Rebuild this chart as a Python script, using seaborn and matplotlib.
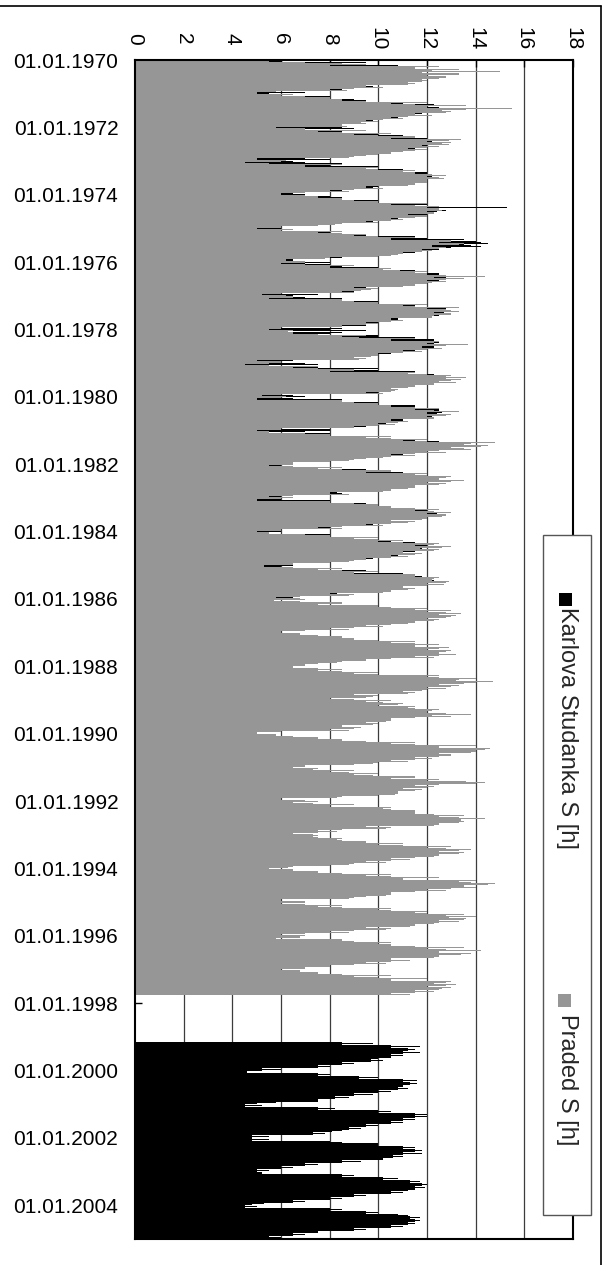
import numpy as np
import pandas as pd
import matplotlib
matplotlib.use("Agg")
import matplotlib.pyplot as plt
import seaborn as sns
from matplotlib.patches import Rectangle
from matplotlib.lines import Line2D

sns.set_style("white")
plt.rcParams['font.family'] = ['Liberation Sans', 'DejaVu Sans']

# ---------------- data (monthly readings of daily sunshine, hours) ----------------
# Praded: Jan 1970 .. Sep 1997 ; "fill" = solid envelope, "peak"/"peak2" = long single days
praded_start = 1970
praded_fill = [
    5.5, 8.0, 10.5, 11.5, 11.8, 12.0, 11.8, 11.2, 10.5, 9.5, 8.0, 5.0,   # 1970
    4.8, 7.0, 8.5, 10.5, 12.0, 12.6, 12.2, 11.5, 10.5, 9.5, 8.5, 7.8,    # 1971
    5.8, 7.5, 9.0, 10.5, 11.6, 12.0, 11.8, 11.2, 10.5, 9.5, 8.0, 5.0,    # 1972
    4.5, 7.0, 8.5, 10.0, 11.5, 12.0, 12.0, 11.5, 10.5, 9.5, 8.0, 6.0,    # 1973
    6.0, 7.5, 9.0, 10.5, 12.0, 12.0, 11.8, 11.2, 10.5, 9.5, 7.5, 5.0,    # 1974
    5.0, 7.5, 9.0, 10.5, 12.0, 12.5, 12.2, 11.8, 11.0, 10.0, 7.0, 6.2,   # 1975
    6.0, 8.0, 9.5, 10.9, 12.0, 12.3, 12.0, 11.5, 10.5, 9.0, 8.5, 5.2,    # 1976
    5.5, 7.5, 9.0, 11.0, 12.0, 12.3, 12.3, 11.5, 10.5, 9.5, 8.5, 5.0,    # 1977
    5.5, 6.5, 8.5, 10.5, 11.5, 12.0, 11.8, 11.0, 10.0, 9.0, 8.5, 5.0,    # 1978
    4.5, 6.5, 8.0, 10.5, 12.0, 12.8, 12.5, 11.5, 10.5, 10.0, 9.5, 5.2,   # 1979
    5.0, 7.5, 9.0, 10.5, 11.5, 12.0, 12.0, 11.5, 10.5, 10.0, 9.0, 5.0,   # 1980
    4.5, 7.0, 9.5, 11.0, 13.0, 13.5, 13.0, 12.0, 10.5, 9.5, 8.0, 5.5,    # 1981
    5.5, 7.5, 9.5, 10.5, 12.0, 12.5, 12.0, 11.5, 10.5, 9.5, 8.0, 5.5,    # 1982
    5.0, 7.0, 9.0, 10.5, 11.5, 12.0, 12.0, 11.0, 10.5, 9.5, 7.5, 5.0,    # 1983
    4.5, 7.0, 9.0, 10.0, 11.5, 11.7, 11.5, 11.0, 10.5, 9.5, 8.0, 5.5,    # 1984
    5.3, 7.5, 9.0, 10.5, 11.5, 12.2, 12.0, 11.0, 10.5, 9.5, 8.0, 5.8,    # 1985
    5.7, 7.5, 9.0, 10.5, 12.0, 12.5, 12.0, 11.5, 10.5, 9.5, 8.0, 6.0,    # 1986
    5.8, 7.5, 9.0, 10.5, 11.5, 11.7, 12.0, 12.5, 11.5, 9.5, 7.5, 6.0,    # 1987
    6.5, 7.5, 9.0, 11.0, 12.5, 13.2, 12.5, 12.0, 11.0, 10.5, 9.0, 8.0,   # 1988
    9.5, 10.0, 10.5, 11.5, 12.0, 12.2, 10.5, 9.5, 9.0, 8.5, 8.0, 5.0,    # 1989
    4.8, 6.5, 8.5, 10.5, 12.5, 14.0, 13.0, 12.5, 11.5, 10.5, 9.0, 6.0,   # 1990
    6.5, 8.0, 9.0, 10.5, 11.0, 13.6, 11.5, 11.0, 10.8, 10.0, 7.5, 6.0,   # 1991
    6.5, 8.0, 9.5, 10.5, 11.5, 12.5, 13.4, 12.5, 11.5, 9.5, 7.5, 6.5,    # 1992
    6.5, 7.5, 8.5, 10.0, 12.0, 12.5, 12.5, 11.5, 10.5, 9.5, 8.0, 5.5,    # 1993
    5.5, 7.5, 9.5, 11.0, 12.5, 13.8, 13.5, 12.0, 10.5, 9.5, 8.0, 6.0,    # 1994
    6.0, 7.5, 9.0, 10.5, 12.0, 12.9, 12.5, 11.5, 10.5, 9.5, 8.0, 6.0,    # 1995
    5.8, 7.5, 9.0, 10.5, 12.0, 12.5, 12.5, 11.5, 10.5, 9.5, 8.0, 6.0,    # 1996
    5.8, 7.5, 9.0, 10.5, 12.0, 12.3, 12.0, 11.5, 10.5,                   # 1997
]
praded_peak = [
    9.6, 8.5, 12.5, 13.3, 15.0, 13.3, 12.8, 12.0, 11.5, 10.5, 9.0, 5.8,  # 1970
    6.5, 8.0, 10.0, 12.0, 13.6, 15.5, 13.0, 12.0, 11.2, 10.2, 9.3, 8.5,  # 1971
    7.0, 9.5, 10.5, 11.5, 13.4, 13.0, 12.9, 12.0, 11.5, 10.5, 9.0, 6.0,  # 1972
    6.0, 8.5, 10.0, 11.5, 12.5, 12.8, 12.7, 12.0, 11.5, 10.5, 9.0, 7.0,  # 1973
    7.0, 8.5, 10.0, 12.0, 12.5, 12.5, 12.3, 12.0, 11.5, 10.5, 8.5, 6.0,  # 1974
    6.5, 8.5, 9.5, 11.5, 13.0, 13.5, 13.0, 12.5, 11.8, 10.8, 8.0, 7.0,   # 1975
    7.0, 9.0, 10.5, 12.0, 13.0, 14.4, 12.8, 12.2, 11.5, 10.0, 9.3, 6.0,  # 1976
    6.5, 8.5, 10.0, 12.0, 13.3, 13.0, 13.0, 12.2, 11.5, 10.5, 9.5, 6.0,  # 1977
    6.5, 7.5, 9.5, 11.5, 12.5, 13.7, 12.5, 12.0, 11.0, 10.0, 9.5, 6.0,   # 1978
    5.5, 7.5, 9.0, 11.5, 13.0, 13.6, 13.0, 12.3, 11.5, 10.8, 10.5, 6.0,  # 1979
    6.0, 8.5, 10.0, 11.5, 12.5, 13.3, 13.0, 12.3, 11.5, 10.8, 10.0, 6.0, # 1980
    5.5, 8.0, 10.5, 12.0, 14.8, 14.5, 13.5, 12.5, 11.5, 10.5, 9.0, 6.5,  # 1981
    6.5, 8.5, 10.5, 12.0, 13.0, 14.6, 13.0, 12.5, 11.5, 10.5, 9.0, 6.5,  # 1982
    6.0, 8.0, 10.0, 11.5, 12.5, 13.0, 12.8, 12.0, 11.5, 10.5, 8.5, 6.0,  # 1983
    5.5, 8.0, 10.0, 11.0, 12.5, 13.0, 12.5, 12.0, 11.5, 10.5, 9.0, 6.5,  # 1984
    6.5, 8.5, 10.0, 11.5, 12.5, 13.0, 12.8, 12.0, 11.5, 10.5, 9.0, 6.8,  # 1985
    7.0, 8.5, 10.0, 12.0, 13.0, 13.4, 13.0, 12.5, 11.5, 10.5, 9.0, 7.0,  # 1986
    6.8, 8.5, 10.0, 11.5, 12.5, 12.9, 13.0, 13.6, 12.5, 10.5, 8.5, 7.0,  # 1987
    7.5, 8.5, 10.0, 12.5, 14.0, 14.7, 13.5, 13.0, 12.0, 11.5, 10.0, 9.5, # 1988
    10.5, 11.0, 11.5, 12.5, 13.0, 13.8, 11.5, 10.5, 10.0, 9.5, 9.0, 6.0, # 1989
    5.8, 7.5, 9.5, 11.5, 14.0, 14.6, 14.0, 13.0, 12.5, 11.5, 10.0, 7.0,  # 1990
    7.5, 9.0, 10.0, 11.5, 12.5, 14.4, 12.5, 12.0, 11.5, 10.8, 8.5, 7.0,  # 1991
    7.5, 9.0, 10.5, 11.5, 12.5, 13.5, 14.4, 13.5, 12.5, 10.5, 8.5, 7.5,  # 1992
    7.5, 8.5, 9.5, 11.0, 13.0, 13.8, 13.5, 12.5, 11.5, 10.5, 9.0, 6.5,   # 1993
    6.5, 8.5, 10.5, 12.5, 14.0, 14.8, 14.2, 13.0, 11.5, 10.5, 9.0, 7.0,  # 1994
    7.0, 8.5, 10.5, 12.0, 13.5, 14.0, 13.5, 12.5, 11.5, 10.5, 9.0, 7.0,  # 1995
    6.8, 8.5, 10.5, 12.0, 13.5, 14.2, 13.8, 12.5, 11.5, 10.5, 9.0, 7.0,  # 1996
    6.8, 8.5, 10.5, 12.0, 13.0, 13.2, 13.0, 12.5, 11.5,                  # 1997
]
praded_peak2 = [
    7.0, 9.5, 11.5, 12.2, 13.3, 12.8, 12.5, 11.8, 11.2, 10.2, 8.7, 6.0,  # 1970
    6.0, 8.0, 9.5, 11.5, 12.8, 13.6, 12.8, 12.2, 11.0, 10.0, 9.5, 8.7,   # 1971
    7.0, 8.5, 10.0, 11.5, 12.9, 12.6, 12.5, 12.0, 11.0, 10.0, 8.8, 6.2,  # 1972
    5.5, 8.0, 9.5, 11.0, 12.2, 12.5, 12.8, 12.0, 11.2, 10.2, 8.8, 7.2,   # 1973
    7.5, 8.5, 10.0, 11.5, 12.5, 12.6, 12.3, 12.0, 11.0, 10.0, 8.2, 6.0,  # 1974
    6.0, 8.5, 10.0, 11.5, 13.0, 13.3, 12.8, 12.2, 11.5, 10.5, 7.8, 7.0,  # 1975
    7.0, 8.7, 10.2, 11.5, 12.8, 13.5, 12.8, 12.0, 11.0, 9.7, 9.0, 6.2,   # 1976
    6.5, 8.5, 10.0, 11.5, 12.8, 13.3, 13.0, 12.2, 11.0, 10.0, 9.2, 6.0,  # 1977
    6.3, 7.5, 9.2, 11.2, 12.3, 12.8, 12.6, 11.8, 10.8, 9.7, 9.2, 6.0,   # 1978
    5.5, 7.5, 9.0, 11.2, 12.8, 13.4, 13.2, 12.3, 11.2, 10.7, 10.2, 6.2,  # 1979
    6.0, 8.5, 10.0, 11.5, 12.3, 12.9, 12.8, 12.3, 11.2, 10.7, 9.7, 6.0,  # 1980
    5.5, 8.0, 10.5, 12.0, 13.8, 14.2, 13.8, 12.8, 11.5, 10.2, 8.8, 6.5,  # 1981
    6.5, 8.5, 10.5, 11.5, 12.8, 13.5, 12.8, 12.3, 11.2, 10.2, 8.8, 6.5,  # 1982
    6.0, 8.0, 10.0, 11.5, 12.3, 12.8, 12.6, 11.8, 11.2, 10.2, 8.5, 6.0,  # 1983
    5.5, 8.0, 10.0, 11.0, 12.3, 12.6, 12.3, 11.8, 11.2, 10.2, 8.8, 6.5,  # 1984
    6.5, 8.5, 10.0, 11.5, 12.3, 12.9, 12.7, 11.8, 11.2, 10.2, 8.8, 6.8,  # 1985
    6.8, 8.5, 10.0, 11.5, 12.8, 13.2, 12.8, 12.3, 11.2, 10.2, 8.8, 7.0,  # 1986
    6.8, 8.5, 10.0, 11.5, 12.3, 12.5, 12.8, 13.2, 12.3, 10.2, 8.3, 7.0,  # 1987
    7.5, 8.5, 10.0, 12.0, 13.3, 14.0, 13.3, 12.8, 11.8, 11.2, 9.8, 9.0,  # 1988
    10.2, 10.8, 11.2, 12.2, 12.8, 13.0, 11.2, 10.3, 9.8, 9.3, 8.8, 6.0,  # 1989
    5.8, 7.5, 9.5, 11.5, 13.5, 14.4, 13.8, 13.0, 12.2, 11.2, 9.8, 7.0,   # 1990
    7.3, 8.8, 9.8, 11.5, 12.0, 14.0, 12.3, 11.8, 11.5, 10.7, 8.3, 7.0,   # 1991
    7.3, 8.8, 10.2, 11.5, 12.3, 13.3, 14.0, 13.3, 12.3, 10.3, 8.3, 7.3,  # 1992
    7.3, 8.3, 9.5, 11.0, 12.8, 13.3, 13.3, 12.3, 11.3, 10.3, 8.8, 6.3,   # 1993
    6.5, 8.5, 10.5, 12.0, 13.3, 14.5, 14.0, 12.8, 11.3, 10.3, 8.8, 7.0,  # 1994
    7.0, 8.5, 10.0, 11.5, 12.8, 13.6, 13.3, 12.3, 11.3, 10.3, 8.8, 7.0,  # 1995
    6.8, 8.5, 10.0, 11.5, 12.8, 13.4, 13.4, 12.3, 11.3, 10.3, 8.8, 7.0,  # 1996
    6.8, 8.5, 10.0, 11.5, 12.8, 12.8, 12.6, 12.3, 11.3,                  # 1997
]

# Karlova Studanka, first part: Jan 1970 .. Dec 1985
karlova1_start = 1970
karlova1_fill = [
    5.0, 7.5, 9.5, 10.5, 11.2, 11.5, 11.2, 10.8, 10.0, 9.0, 7.5, 4.5,    # 1970
    4.5, 6.5, 8.0, 10.0, 11.5, 11.9, 11.5, 10.5, 10.0, 9.0, 8.0, 7.0,    # 1971
    5.5, 7.0, 8.5, 10.0, 11.5, 12.0, 11.9, 11.0, 10.0, 9.0, 7.5, 5.0,    # 1972
    4.5, 6.5, 8.5, 10.0, 11.5, 12.0, 12.0, 11.0, 10.0, 9.0, 7.5, 5.5,    # 1973
    5.5, 7.0, 9.0, 10.5, 12.2, 12.4, 12.0, 11.0, 10.0, 9.0, 7.0, 4.5,    # 1974
    4.5, 7.0, 8.5, 10.5, 12.5, 13.5, 13.0, 12.0, 11.0, 10.0, 7.0, 5.5,   # 1975
    5.5, 7.5, 9.0, 10.5, 12.0, 12.5, 12.0, 11.0, 10.0, 8.5, 8.0, 4.5,    # 1976
    5.0, 7.0, 8.5, 10.5, 12.5, 12.7, 12.5, 11.0, 10.0, 9.0, 8.0, 4.5,    # 1977
    5.0, 6.5, 8.0, 10.0, 11.8, 12.3, 12.0, 11.0, 9.5, 8.5, 8.0, 4.5,     # 1978
    4.0, 6.0, 8.0, 10.5, 12.0, 12.5, 12.0, 11.0, 10.0, 9.5, 9.0, 4.8,    # 1979
    4.5, 7.0, 8.5, 10.0, 12.0, 12.4, 12.2, 11.5, 10.0, 9.5, 8.5, 4.5,    # 1980
    4.0, 6.5, 9.0, 10.5, 12.0, 12.5, 12.0, 11.5, 10.0, 9.0, 7.5, 5.0,    # 1981
    5.0, 7.0, 9.0, 10.0, 11.5, 12.0, 11.5, 11.0, 10.0, 9.0, 7.5, 5.0,    # 1982
    4.5, 6.5, 8.5, 10.0, 11.0, 11.5, 11.5, 10.5, 10.0, 9.0, 7.0, 4.5,    # 1983
    4.0, 6.5, 8.5, 9.5, 11.0, 11.2, 11.0, 10.5, 10.0, 9.0, 7.5, 5.0,     # 1984
    5.0, 7.0, 8.5, 10.0, 11.0, 11.8, 11.5, 10.5, 10.0, 9.0, 7.5, 5.0,    # 1985
]
karlova1_peak = [
    6.0, 7.5, 10.3, 11.0, 11.8, 12.0, 11.8, 11.0, 10.8, 9.8, 8.5, 7.0,   # 1970
    6.0, 7.5, 9.5, 11.0, 12.0, 12.2, 12.0, 11.5, 10.8, 9.8, 9.5, 8.5,    # 1971
    9.0, 8.5, 10.0, 11.0, 12.0, 12.0, 12.0, 11.5, 10.8, 9.8, 8.5, 8.0,   # 1972
    7.0, 8.0, 9.5, 11.0, 12.0, 12.2, 12.0, 11.5, 10.8, 9.8, 8.5, 6.5,    # 1973
    8.0, 8.0, 10.0, 12.0, 15.3, 12.8, 12.5, 11.5, 10.8, 9.8, 8.0, 7.5,   # 1974
    6.5, 8.0, 9.5, 12.0, 14.0, 14.5, 14.2, 12.5, 11.5, 10.5, 8.5, 6.5,   # 1975
    7.0, 8.5, 10.0, 11.5, 12.5, 12.8, 12.5, 11.5, 10.5, 9.5, 9.0, 7.5,   # 1976
    7.0, 8.5, 10.0, 11.5, 12.8, 13.0, 12.7, 11.5, 10.8, 10.0, 9.5, 8.5,  # 1977
    9.5, 8.0, 10.0, 12.3, 12.5, 12.5, 12.3, 11.5, 10.5, 9.5, 9.0, 6.0,   # 1978
    7.5, 7.5, 10.0, 11.5, 12.5, 12.8, 12.5, 11.5, 10.8, 10.3, 10.0, 6.5, # 1979
    6.5, 8.0, 10.0, 11.5, 12.5, 12.6, 12.5, 12.0, 11.0, 10.3, 9.5, 8.0,  # 1980
    7.0, 8.0, 9.5, 11.5, 12.5, 12.8, 12.5, 12.0, 11.0, 10.0, 8.5, 6.5,   # 1981
    6.0, 7.5, 9.5, 11.0, 12.3, 12.5, 12.0, 11.5, 10.8, 9.8, 8.5, 6.0,    # 1982
    6.0, 7.5, 9.0, 10.5, 12.0, 12.4, 12.0, 11.0, 10.8, 9.8, 8.0, 6.0,    # 1983
    5.5, 7.0, 9.0, 10.5, 11.5, 12.0, 11.8, 11.0, 10.8, 9.8, 8.5, 6.5,    # 1984
    6.0, 7.5, 9.0, 11.0, 12.0, 12.3, 12.0, 11.0, 10.8, 9.8, 8.5, 6.5,    # 1985
]
karlova1_peak2 = [
    6.5, 9.5, 10.8, 11.5, 12.0, 12.3, 12.0, 11.5, 10.5, 9.5, 8.5, 6.0,   # 1970
    5.5, 8.0, 9.0, 11.0, 12.3, 12.5, 12.2, 11.8, 11.0, 10.0, 9.0, 8.5,   # 1971
    8.5, 8.0, 9.5, 11.0, 12.0, 12.2, 12.2, 11.8, 10.8, 10.0, 8.5, 7.0,   # 1972
    6.5, 8.5, 10.0, 11.0, 12.0, 12.3, 12.3, 11.8, 10.8, 10.0, 8.5, 7.0,  # 1973
    7.0, 8.5, 10.0, 11.5, 12.5, 12.5, 12.3, 12.0, 10.8, 10.0, 8.0, 6.5,  # 1974
    6.0, 8.5, 10.0, 11.5, 13.5, 14.2, 13.8, 12.5, 11.3, 10.5, 8.0, 6.5,  # 1975
    8.0, 8.0, 10.0, 11.5, 12.5, 12.7, 12.5, 11.5, 10.8, 9.5, 8.8, 6.5,   # 1976
    6.5, 8.5, 10.0, 11.5, 12.7, 12.8, 12.7, 12.0, 10.8, 10.0, 9.0, 6.5,  # 1977
    8.0, 8.5, 10.0, 11.5, 12.3, 12.3, 12.3, 11.5, 10.5, 9.5, 9.0, 6.5,   # 1978
    7.0, 8.0, 10.0, 11.5, 12.3, 12.7, 12.5, 11.8, 10.8, 10.3, 9.8, 6.5,  # 1979
    7.0, 8.5, 10.0, 11.5, 12.4, 12.5, 12.4, 12.0, 11.0, 10.3, 9.3, 6.5,  # 1980
    8.0, 8.0, 9.5, 11.5, 12.5, 12.7, 12.3, 12.0, 10.8, 10.0, 8.3, 6.0,   # 1981
    6.5, 8.0, 9.5, 11.0, 12.0, 12.3, 12.0, 11.5, 10.5, 9.8, 8.3, 6.0,    # 1982
    6.5, 8.0, 9.5, 10.5, 11.8, 12.2, 12.0, 11.5, 10.5, 9.8, 8.0, 6.0,    # 1983
    6.0, 8.0, 9.5, 10.5, 11.5, 12.0, 11.8, 11.5, 10.5, 9.8, 8.3, 6.0,    # 1984
    6.5, 8.0, 9.5, 11.0, 11.8, 12.2, 12.0, 11.5, 10.5, 9.8, 8.3, 6.0,    # 1985
]

# Karlova Studanka, second part: Mar 1999 .. Dec 2004
karlova2_start = 1999 + 2 / 12
karlova2_fill = [
    8.5, 10.5, 11.2, 11.0, 10.5, 10.0, 9.7, 8.5, 7.5, 5.2,               # 1999
    4.6, 7.5, 9.2, 11.0, 11.3, 11.0, 10.8, 10.0, 9.0, 8.2, 7.5, 5.0,     # 2000
    4.5, 7.5, 10.0, 11.5, 11.5, 11.0, 10.5, 9.5, 8.8, 8.1, 7.3, 4.8,     # 2001
    4.8, 8.0, 10.0, 11.0, 11.5, 11.0, 10.6, 10.2, 8.5, 7.0, 6.0, 5.0,    # 2002
    5.2, 8.5, 10.2, 11.3, 11.8, 11.5, 11.2, 10.5, 9.0, 8.0, 6.5, 4.8,    # 2003
    4.5, 8.0, 9.5, 10.8, 11.3, 11.5, 11.2, 10.5, 9.0, 7.5, 6.5, 5.5,     # 2004
]
karlova2_peak = [
    9.8, 11.7, 11.5, 11.7, 11.0, 10.5, 10.2, 9.0, 8.0, 6.0,              # 1999
    5.5, 8.0, 10.0, 11.6, 11.6, 11.4, 11.2, 10.5, 9.8, 8.8, 8.0, 5.8,    # 2000
    5.2, 8.2, 10.5, 12.0, 12.0, 11.5, 11.0, 10.0, 9.3, 8.5, 7.8, 5.5,    # 2001
    5.5, 8.5, 10.5, 11.5, 11.8, 11.8, 11.0, 10.8, 9.3, 7.5, 6.5, 5.5,    # 2002
    5.8, 9.0, 10.8, 11.7, 12.0, 11.9, 11.5, 11.0, 9.5, 8.5, 7.0, 5.3,    # 2003
    5.0, 8.5, 10.0, 11.2, 11.7, 11.7, 11.5, 11.0, 9.5, 8.0, 7.0, 6.0,    # 2004
]

value_ticks = [0, 2, 4, 6, 8, 10, 12, 14, 16, 18]
date_ticks = list(range(1970, 2005, 2))
date_labels = [f"01.01.{y}" for y in date_ticks]
series_labels = ["Karlova Studanka S [h]", "Praded S [h]"]
series_colors = ["#000000", "#969696"]


def monthly(start, vals, offset):
    pos = start + (np.arange(len(vals)) + offset) / 12.0
    return pd.DataFrame({"pos": pos, "val": vals})


W, H = 607, 1265
fig = plt.figure(figsize=(W / 100, H / 100), dpi=100)
ax = fig.add_axes([135 / W, (H - 1239) / H, (573 - 135) / W, (1239 - 60) / H])

# vertical gridlines (behind bars)
for v in value_ticks[1:-1]:
    ax.axvline(v, color="#3c3c3c", lw=0.9, zorder=0.2)

k_fill = pd.concat([monthly(karlova1_start, karlova1_fill, 0.5),
                    monthly(karlova2_start, karlova2_fill, 0.5)], ignore_index=True)
k_peak = pd.concat([monthly(karlova1_start, karlova1_peak, 0.5),
                    monthly(karlova2_start, karlova2_peak, 0.5)], ignore_index=True)
k_peak2 = monthly(karlova1_start, karlova1_peak2, 0.0)
p_fill = monthly(praded_start, praded_fill, 0.5)
p_peak = monthly(praded_start, praded_peak, 0.25)
p_peak2 = monthly(praded_start, praded_peak2, 0.75)

common = dict(orient="y", native_scale=True, errorbar=None, linewidth=0,
              saturation=1, ax=ax)
sns.barplot(data=k_fill, x="val", y="pos", color=series_colors[0], width=1.06, **common)
sns.barplot(data=k_peak, x="val", y="pos", color=series_colors[0], width=0.32, **common)
sns.barplot(data=k_peak2, x="val", y="pos", color=series_colors[0], width=0.32, **common)
sns.barplot(data=p_fill, x="val", y="pos", color=series_colors[1], width=1.06, **common)
sns.barplot(data=p_peak, x="val", y="pos", color=series_colors[1], width=0.32, **common)
sns.barplot(data=p_peak2, x="val", y="pos", color=series_colors[1], width=0.32, **common)

ax.set_xlim(0, 18)
ax.set_ylim(2005, 1970)
ax.set_xlabel("")
ax.set_ylabel("")

ax.xaxis.tick_top()
ax.set_xticks(value_ticks, [str(v) for v in value_ticks], rotation=-90, va="center", ha="center")
ax.set_yticks(date_ticks, date_labels)
ax.tick_params(axis="x", which="both", top=True, bottom=False, direction="in",
               length=5, width=1, pad=15.5, labelsize=15, colors="black")
ax.tick_params(axis="y", which="both", left=True, right=False, direction="in",
               length=5, width=1, pad=12, labelsize=15, colors="black")
for s in ax.spines.values():
    s.set_visible(True)
    s.set_color("black")
    s.set_linewidth(1.5)
ax.grid(False)

# legend box (rotated chart legend)
def fx(px):
    return px / W

def fy(py):
    return 1 - py / H

fig.patches.append(Rectangle((fx(543), fy(1215)), fx(591) - fx(543), fy(535) - fy(1215),
                             transform=fig.transFigure, facecolor="white",
                             edgecolor="#555555", lw=1.0, zorder=5))
fig.patches.append(Rectangle((fx(558.5), fy(606)), 13 / W, 13 / H, transform=fig.transFigure,
                             facecolor=series_colors[0], edgecolor="none", zorder=6))
fig.patches.append(Rectangle((fx(557.5), fy(1007)), 13 / W, 13 / H, transform=fig.transFigure,
                             facecolor=series_colors[1], edgecolor="none", zorder=6))
fig.text(fx(567), fy(607), series_labels[0], rotation=-90, ha="center", va="top",
         fontsize=17, zorder=7)
fig.text(fx(567), fy(1014), series_labels[1], rotation=-90, ha="center", va="top",
         fontsize=17, zorder=7)

# outer chart-area border (top and right edges)
fig.add_artist(Line2D([0, fx(601)], [fy(6), fy(6)], transform=fig.transFigure,
                      color="black", lw=1.2))
fig.add_artist(Line2D([fx(601), fx(601)], [fy(6), 0], transform=fig.transFigure,
                      color="black", lw=1.2))

fig.savefig("out.png", dpi=100)
